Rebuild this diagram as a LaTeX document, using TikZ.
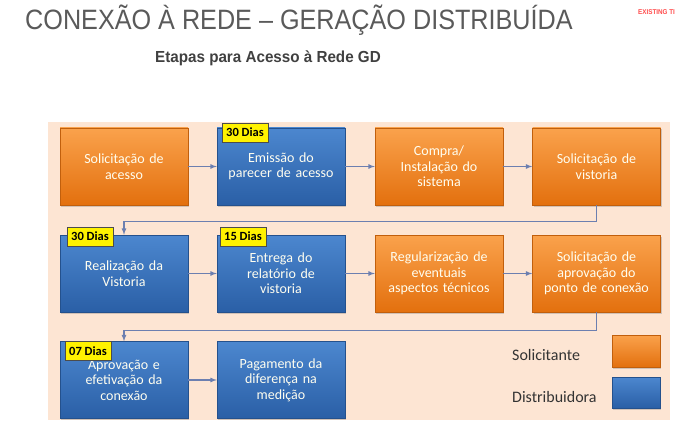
\documentclass[tikz,border=0pt]{standalone}
\usepackage{fontspec}
\setmainfont{Carlito}
\newfontfamily\titlefont[FakeStretch=0.9]{Liberation Sans}
\newfontfamily\subtitlefont[FakeStretch=0.95]{Liberation Sans}
\usetikzlibrary{shapes,arrows,positioning,calc,shadows}

\definecolor{orangetop}{HTML}{FAA24C}
\definecolor{orangebot}{HTML}{E3700E}
\definecolor{bluetop}{HTML}{4C87CF}
\definecolor{bluebot}{HTML}{2A5FA6}
\definecolor{panelbg}{HTML}{FDE5D3}
\definecolor{linkblue}{HTML}{6C7FB0}
\definecolor{titlegray}{HTML}{5A5A5A}

\tikzset{
  stepbox/.style={rectangle, minimum width=128pt, minimum height=77pt, text width=126pt,
    align=center, text=white!94!yellow, font=\fontsize{14}{15.5}\selectfont, inner sep=1pt,
    drop shadow={opacity=0.35, shadow xshift=1pt, shadow yshift=-1.5pt}},
  solic/.style={stepbox, top color=orangetop, bottom color=orangebot, draw=orangebot!85!black, line width=0.4pt},
  distr/.style={stepbox, top color=bluetop, bottom color=bluebot, draw=bluebot!85!black, line width=0.4pt},
  prazo/.style={draw=gray!60!black, fill=yellow, font=\bfseries\fontsize{12.5}{13}\selectfont,
    minimum width=46pt, minimum height=19pt, inner sep=1pt, anchor=north west},
  seta/.style={->, >=latex, line width=1.2pt, draw=linkblue},
  legenda/.style={anchor=west, text=black!80, font=\fontsize{16}{18}\selectfont, inner sep=0pt},
}

\begin{document}
\begin{tikzpicture}[x=1pt, y=-1pt]
    \useasboundingbox (0,0) rectangle (700,430);

    \node[anchor=west, text=titlegray, font=\titlefont\fontsize{28}{30}\selectfont, inner sep=0pt] (titulo) at (25,20) {CONEXÃO À REDE – GERAÇÃO DISTRIBUÍDA};
    \node[anchor=west, text=black!75, font=\subtitlefont\bfseries\fontsize{16}{18}\selectfont, inner sep=0pt] (subtitulo) at (155,58) {Etapas para Acesso à Rede GD};
    \node[anchor=west, text=red!70, font=\titlefont\bfseries\fontsize{7}{8}\selectfont, inner sep=0pt] (marca) at (638,12) {EXISTING TI};

    \fill[panelbg] (48,122) rectangle (670,420);

    \node[solic] (b1) at (124,166.5) {Solicitação de\\acesso};
    \node[distr] (b2) at (281,166.5) {Emissão do\\parecer de acesso};
    \node[solic] (b3) at (439,166.5) {Compra/\\Instalação do\\sistema};
    \node[solic] (b4) at (596.5,166.5) {Solicitação de\\vistoria};

    \node[distr] (b5) at (124,273.5) {Realização da\\Vistoria};
    \node[distr] (b6) at (281,273.5) {Entrega do\\relatório de\\vistoria};
    \node[solic] (b7) at (439,273.5) {Regularização de\\eventuais\\aspectos técnicos};
    \node[solic] (b8) at (596.5,273.5) {Solicitação de\\aprovação do\\ponto de conexão};

    \node[distr] (b9) at (124,380) {Aprovação e\\efetivação da\\conexão};
    \node[distr] (b10) at (281,380) {Pagamento da\\diferença na\\medição};

    \node[prazo] (p2) at ($(b2.north west)+(5,-5)$) {30 Dias};
    \node[prazo] (p5) at ($(b5.north west)+(7,-8)$) {30 Dias};
    \node[prazo] (p6) at ($(b6.north west)+(3,-8)$) {15 Dias};
    \node[prazo] (p9) at ($(b9.north west)+(5,0)$) {07 Dias};

    \draw[seta] (b1) -- (b2);
    \draw[seta] (b2) -- (b3);
    \draw[seta] (b3) -- (b4);
    \draw[seta] (b4.south) -- ++(0,16) -| (b5.north);

    \draw[seta] (b5) -- (b6);
    \draw[seta] (b6) -- (b7);
    \draw[seta] (b7) -- (b8);
    \draw[seta] (b8.south) -- ++(0,18) -| (b9.north);

    \draw[seta] (b9) -- (b10);

    % legenda
    \node[legenda] (lsolic) at (512,355) {Solicitante};
    \node[legenda] (ldistr) at (512,397) {Distribuidora};
    \node[solic, minimum width=48pt, minimum height=32pt, text width=, ] (csolic) at (636,351) {};
    \node[distr, minimum width=48pt, minimum height=31pt, text width=, ] (cdistr) at (636,392.5) {};
\end{tikzpicture}
\end{document}
